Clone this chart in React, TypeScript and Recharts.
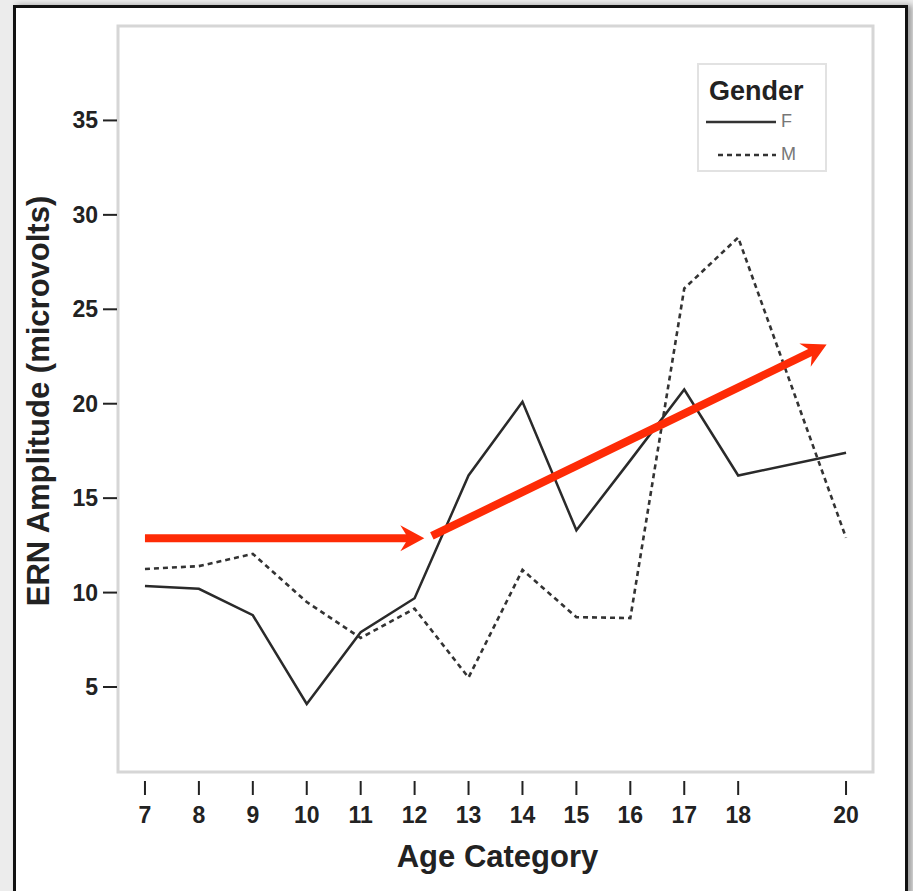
import {
  LineChart,
  Line,
  XAxis,
  YAxis,
  Legend,
  ReferenceArea,
  ReferenceLine,
  Label,
} from "recharts";

const ages = [7, 8, 9, 10, 11, 12, 13, 14, 15, 16, 17, 18, 20];
const femaleErn = [10.35, 10.2, 8.8, 4.1, 7.9, 9.7, 16.2, 20.1, 13.3, 17.0, 20.75, 16.2, 17.4];
const maleErn = [11.25, 11.4, 12.05, 9.5, 7.6, 9.15, 5.5, 11.2, 8.7, 8.65, 26.1, 28.8, 12.9];

const xTicks = [7, 8, 9, 10, 11, 12, 13, 14, 15, 16, 17, 18, 20];
const yTicks = [5, 10, 15, 20, 25, 30, 35];
const xDomain = [6.5, 20.5];
const yDomain = [0.5, 40];

// red annotation arrows, in data units: [x1, y1, x2, y2]
const arrows = [
  [7, 12.88, 12.18, 12.88],
  [12.32, 13.0, 19.64, 23.13],
];

const data = ages.map((age, i) => ({ age, F: femaleErn[i], M: maleErn[i] }));

const FONT = '"Liberation Sans", Arial, sans-serif';
const INK = "#222";
const RED = "#fe2b06";

const XTick = (props: any) => {
  const { x, y, payload } = props;
  return (
    <g>
      <line x1={x} y1={y + 9} x2={x} y2={y + 23} stroke={INK} strokeWidth={2} />
      <text x={x} y={y + 51} textAnchor="middle" fontFamily={FONT} fontWeight="bold" fontSize={23} fill={INK}>
        {payload.value}
      </text>
    </g>
  );
};

const YTick = (props: any) => {
  const { x, y, payload } = props;
  return (
    <g>
      <line x1={x - 15} y1={y} x2={x - 1} y2={y} stroke={INK} strokeWidth={2} />
      <text x={x - 20} y={y + 8} textAnchor="end" fontFamily={FONT} fontWeight="bold" fontSize={23} fill={INK}>
        {payload.value}
      </text>
    </g>
  );
};

const Arrow = (props: any) => {
  const { x1, y1, x2, y2 } = props;
  const ang = Math.atan2(y2 - y1, x2 - x1);
  const ux = Math.cos(ang);
  const uy = Math.sin(ang);
  const len = 24;
  const half = 13;
  const notch = 8;
  const bx = x2 - ux * len;
  const by = y2 - uy * len;
  const nx = x2 - ux * (len - notch);
  const ny = y2 - uy * (len - notch);
  const pts = [
    [x2, y2],
    [bx - uy * half, by + ux * half],
    [nx, ny],
    [bx + uy * half, by - ux * half],
  ]
    .map((p) => p.join(","))
    .join(" ");
  return (
    <g>
      <line x1={x1} y1={y1} x2={nx + ux * 2} y2={ny + uy * 2} stroke={RED} strokeWidth={8} />
      <polygon points={pts} fill={RED} />
    </g>
  );
};

const seriesStyle: Record<string, string | undefined> = { F: undefined, M: "5 4" };

const GenderLegend = (props: any) => {
  const { payload = [] } = props;
  return (
    <div
      style={{
        width: 130,
        height: 109,
        border: "2px solid #e2e2e2",
        background: "#fff",
        fontFamily: FONT,
        boxSizing: "border-box",
      }}
    >
      <div style={{ fontWeight: "bold", fontSize: 27, color: INK, padding: "12px 0 0 10px", lineHeight: "28px" }}>
        Gender
      </div>
      {payload.map((p: any) => (
        <div key={p.value} style={{ display: "flex", alignItems: "center", height: 33, paddingLeft: 5 }}>
          <svg width={74} height={10}>
            <line
              x1={p.value === "M" ? 14 : 2}
              y1={5}
              x2={72}
              y2={5}
              stroke="#333"
              strokeWidth={2.5}
              strokeDasharray={seriesStyle[p.value]}
            />
          </svg>
          <span style={{ fontSize: 18, color: "#777", marginLeft: 3 }}>{p.value}</span>
        </div>
      ))}
    </div>
  );
};

export default function App() {
  return (
    <div style={{ position: "absolute", left: 0, top: 0, width: 913, height: 891, background: "#ececec", overflow: "hidden" }}>
      <div
        style={{
          position: "absolute",
          left: 13,
          top: 5,
          width: 895,
          height: 920,
          border: "3px solid #111",
          boxSizing: "border-box",
          background: "#fff",
          boxShadow: "4px 0 6px rgba(0,0,0,0.35)",
        }}
      />
      <div style={{ position: "absolute", left: 0, top: 0 }}>
        <LineChart width={913} height={891} data={data} margin={{ top: 26, right: 40, bottom: 0, left: 0 }}>
          <ReferenceArea
            x1={xDomain[0]}
            x2={xDomain[1]}
            y1={yDomain[0]}
            y2={yDomain[1]}
            fill="#fff"
            fillOpacity={1}
            stroke="#d6d6d6"
            strokeWidth={3}
            ifOverflow="visible"
          />
          <XAxis
            dataKey="age"
            type="number"
            domain={xDomain}
            ticks={xTicks}
            interval={0}
            height={119}
            axisLine={false}
            tickLine={false}
            tickSize={0}
            tickMargin={0}
            tick={<XTick />}
            allowDataOverflow
          >
            <Label
              content={(p: any) => (
                <text
                  x={p.viewBox.x + p.viewBox.width / 2 + 2}
                  y={p.viewBox.y + 95}
                  textAnchor="middle"
                  fontFamily={FONT}
                  fontWeight="bold"
                  fontSize={31}
                  fill={INK}
                >
                  Age Category
                </text>
              )}
            />
          </XAxis>
          <YAxis
            type="number"
            domain={yDomain}
            ticks={yTicks}
            width={118}
            axisLine={false}
            tickLine={false}
            tickSize={0}
            tickMargin={0}
            tick={<YTick />}
            allowDataOverflow
          >
            <Label
              content={(p: any) => {
                const cx = p.viewBox.x + 49;
                const cy = p.viewBox.y + p.viewBox.height / 2 + 2;
                return (
                  <text
                    x={cx}
                    y={cy}
                    transform={`rotate(-90 ${cx} ${cy})`}
                    textAnchor="middle"
                    fontFamily={FONT}
                    fontWeight="bold"
                    fontSize={31}
                    fill={INK}
                  >
                    ERN Amplitude (microvolts)
                  </text>
                );
              }}
            />
          </YAxis>
          <Line
            type="linear"
            dataKey="F"
            name="F"
            stroke="#2a2a2a"
            strokeWidth={2.5}
            dot={false}
            isAnimationActive={false}
          />
          <Line
            type="linear"
            dataKey="M"
            name="M"
            stroke="#333"
            strokeWidth={2.6}
            strokeDasharray={seriesStyle.M}
            dot={false}
            isAnimationActive={false}
          />
          {arrows.map((a, i) => (
            <ReferenceLine
              key={i}
              segment={[
                { x: a[0], y: a[1] },
                { x: a[2], y: a[3] },
              ]}
              ifOverflow="visible"
              shape={(p: any) => <Arrow {...p} />}
            />
          ))}
          <Legend
            layout="vertical"
            align="center"
            verticalAlign="middle"
            wrapperStyle={{ left: 697, top: 63, width: 130, height: 109 }}
            content={<GenderLegend />}
          />
        </LineChart>
      </div>
    </div>
  );
}
